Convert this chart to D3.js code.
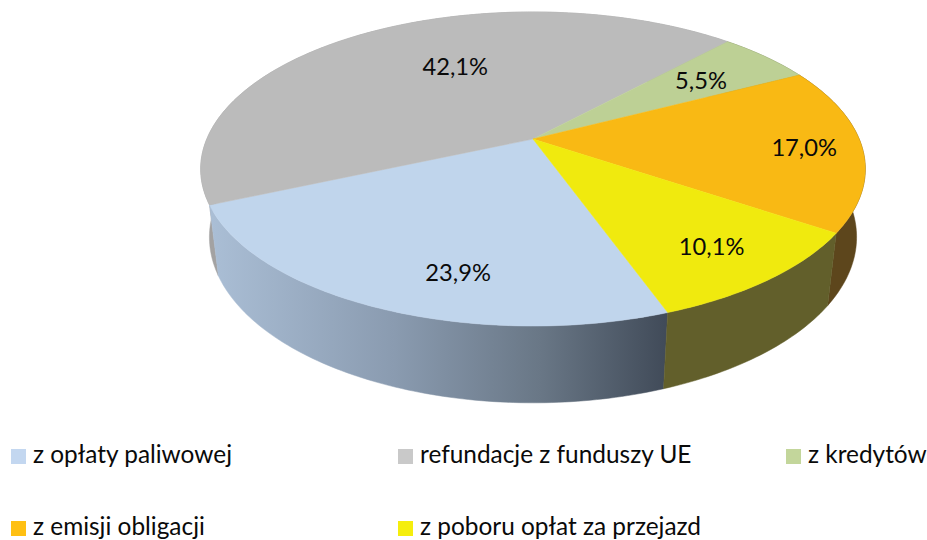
<!DOCTYPE html>
<html lang="pl">
<head>
<meta charset="utf-8">
<title>Pie 3D</title>
<script src="https://cdn.jsdelivr.net/npm/d3@7"></script>
<style>
  html, body { margin: 0; padding: 0; background: #fff; }
  text { font-family: Lato, "Noto Sans", sans-serif; fill: #0a0a0a; }
</style>
</head>
<body>
<script>
// data
var categories = ["z opłaty paliwowej", "refundacje z funduszy UE", "z kredytów", "z emisji obligacji", "z poboru opłat za przejazd"];
// the printed labels only add up to 98.6, the grey wedge is drawn about 1.4 wider than its label
var wedgeValues = [23.9, 43.5, 5.5, 17.0, 10.1];
var labels = ["23,9%", "42,1%", "5,5%", "17,0%", "10,1%"];

var topColors = ["#c0d5ec", "#bbbbbb", "#bdd095", "#f9b914", "#f0ea0e"];
var wallColors = ["url(#blueWall)", "#a3a2a2", "#6c7650", "#5d461c", "#625f2b"];
var legendColors = ["#c3d7f0", "#c9c9c9", "#c3d69b", "#ffc013", "#f5ee0d"];
var drawOrder = [1, 2, 3, 0, 4];

var width = 927, height = 540;
var svg = d3.select("body").append("svg")
	.attr("width", width)
	.attr("height", height)
	.style("display", "block");

// perspective: the centre of the pie does not sit at the middle of the ellipse
var cx = 533, cy = 139, rx = 326.2, ry = 151.3, k = 0.191;
var bottomScale = 1.026, bottomDrop = 69;

function project(angle, r, isBottom) {
	var u = r * Math.sin(angle), v = -r * Math.cos(angle);
	var w = (isBottom ? bottomScale : 1) - k * v;
	var y = ry * v + (isBottom ? bottomDrop : 0);
	return [cx + rx * u / w, cy + y / w];
}

var start = 160.2 * Math.PI / 180;
var pie = d3.pie().sort(null).startAngle(start).endAngle(start + 2 * Math.PI);
var slices = pie(wedgeValues);
var line = d3.line();

function arcPoints(d, isBottom) {
	var n = Math.max(4, Math.ceil((d.endAngle - d.startAngle) * 60));
	return d3.range(n + 1).map(function(i) {
		return project(d.startAngle + (d.endAngle - d.startAngle) * i / n, 1, isBottom);
	});
}

var grad = svg.append("defs").append("linearGradient")
	.attr("id", "blueWall")
	.attr("gradientUnits", "userSpaceOnUse")
	.attr("x1", 212).attr("x2", 668).attr("y1", 0).attr("y2", 0);
[[0, "#aabed5"], [0.4, "#8a9bb0"], [0.72, "#697786"], [1, "#404a58"]].forEach(function(s) {
	grad.append("stop").attr("offset", s[0]).attr("stop-color", s[1]);
});

// side walls first, the top faces then cover whatever is at the back
svg.append("g").selectAll("path")
	.data(drawOrder)
	.enter().append("path")
	.attr("d", function(i) {
		return line(arcPoints(slices[i], false).concat(arcPoints(slices[i], true).reverse())) + "Z";
	})
	.attr("fill", function(i) { return wallColors[i]; })
	.attr("stroke", function(i) { return wallColors[i]; })
	.attr("stroke-width", 0.5);

svg.append("g").selectAll("path")
	.data(slices)
	.enter().append("path")
	.attr("d", function(d) {
		return line([project(0, 0, false)].concat(arcPoints(d, false))) + "Z";
	})
	.attr("fill", function(d, i) { return topColors[i]; })
	.attr("stroke", function(d, i) { return topColors[i]; })
	.attr("stroke-width", 0.5);

// labels: along the mid angle, then nudged to where Excel had put them
var labelNudge = [[19.5, 31], [34, 0], [11, -3.6], [58, 2.5], [34, 21]];
svg.append("g").selectAll("text")
	.data(slices)
	.enter().append("text")
	.attr("x", function(d, i) { return project((d.startAngle + d.endAngle) / 2, 0.65, false)[0] + labelNudge[i][0]; })
	.attr("y", function(d, i) { return project((d.startAngle + d.endAngle) / 2, 0.65, false)[1] + labelNudge[i][1]; })
	.attr("text-anchor", "middle")
	.attr("dominant-baseline", "central")
	.style("font-size", "23.7px")
	.text(function(d, i) { return labels[i]; });

// legend, two rows
var legendX = [11, 398, 786, 11, 398];
var legendRow = [464, 464, 464, 536, 536];
var legend = svg.append("g").selectAll("g")
	.data(categories)
	.enter().append("g")
	.attr("transform", function(d, i) { return "translate(" + legendX[i] + "," + legendRow[i] + ")"; });

legend.append("rect")
	.attr("x", 0).attr("y", -15)
	.attr("width", 15).attr("height", 15)
	.attr("fill", function(d, i) { return legendColors[i]; });

legend.append("text")
	.attr("x", 22)
	.attr("y", -1)
	.style("font-size", "24.4px")
	.text(function(d) { return d; });
</script>
</body>
</html>
